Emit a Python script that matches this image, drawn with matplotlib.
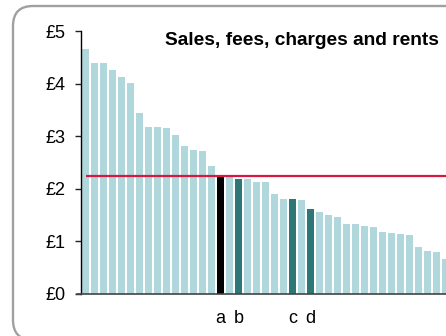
import matplotlib
matplotlib.use("Agg")
import matplotlib.pyplot as plt
from matplotlib.patches import FancyBboxPatch
from matplotlib.transforms import IdentityTransform

plt.rcParams['font.family'] = ['Liberation Sans', 'DejaVu Sans']

# Income per head from sales, fees, charges and rents, sorted high to low
values = [4.65, 4.40, 4.39, 4.26, 4.13, 4.01, 3.44, 3.17, 3.17, 3.15,
          3.02, 2.81, 2.73, 2.71, 2.43, 2.24, 2.22, 2.19, 2.18, 2.12,
          2.12, 1.90, 1.81, 1.80, 1.79, 1.61, 1.55, 1.50, 1.46, 1.33,
          1.33, 1.29, 1.27, 1.17, 1.16, 1.14, 1.13, 0.89, 0.82, 0.80,
          0.66]
average = 2.24
highlight_idx = [15, 17, 23, 25]
highlight_labels = ['a', 'b', 'c', 'd']
y_ticks = [0, 1, 2, 3, 4, 5]
y_tick_labels = ['£0', '£1', '£2', '£3', '£4', '£5']
title = 'Sales, fees, charges and rents'

LIGHT = '#b0d7db'
DARK = '#2f7777'
BLACK = '#000000'
RED = '#d7193f'

fig = plt.figure(figsize=(4.46, 3.36), dpi=100)

# rounded panel frame (pixel coordinates)
frame = FancyBboxPatch((13, -4), 480, 334,
                       boxstyle="round,pad=0,rounding_size=20",
                       transform=IdentityTransform(), fill=False,
                       edgecolor='#a0a0a0', linewidth=1.7)
fig.patches.append(frame)

ax = fig.add_axes([81.2 / 446, 42 / 336, 369 / 446, 263 / 336])

colors = []
for i in range(len(values)):
    if i == highlight_idx[0]:
        colors.append(BLACK)
    elif i in highlight_idx:
        colors.append(DARK)
    else:
        colors.append(LIGHT)

x = list(range(len(values)))
ax.bar(x, values, width=0.82, color=colors, linewidth=0)
ax.plot([0, len(values) + 2], [average, average], color=RED, linewidth=1.6,
        solid_capstyle='butt', clip_on=False)

ax.set_xlim(-0.5, len(values) - 0.5)
ax.set_ylim(0, 5)

ax.set_yticks(y_ticks)
ax.set_yticklabels(y_tick_labels, fontsize=13)
ax.tick_params(axis='y', length=4, width=1, pad=7.5, color='#222222')

ax.set_xticks(highlight_idx)
ax.set_xticklabels(highlight_labels, fontsize=13)
ax.tick_params(axis='x', length=0, pad=11.5)

for side in ('top', 'right'):
    ax.spines[side].set_visible(False)
ax.spines['left'].set_color('#000000')
ax.spines['left'].set_linewidth(1.0)
ax.spines['bottom'].set_color('#444444')
ax.spines['bottom'].set_linewidth(1.2)
ax.spines['bottom'].set_bounds(-0.95, len(values) + 2)

fig.text(439 / 446, 1 - 45 / 336, title, ha='right', va='baseline',
         fontsize=13.8, fontweight='bold')

fig.savefig('out.png', dpi=100)
